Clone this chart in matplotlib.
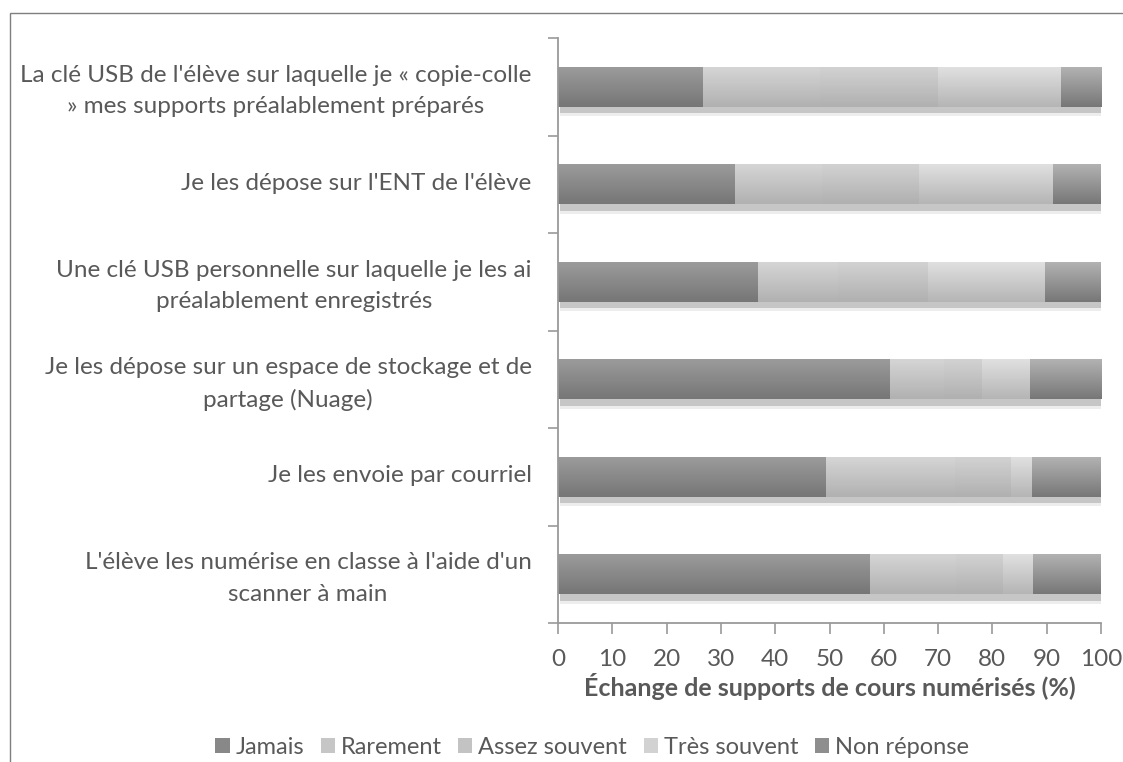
import numpy as np
import matplotlib
matplotlib.use("Agg")
import matplotlib.pyplot as plt
from matplotlib.colors import LinearSegmentedColormap
from matplotlib.patches import Rectangle, Patch
from matplotlib.ticker import FixedLocator

categories = [
    "La clé USB de l'élève sur laquelle je « copie-colle\n» mes supports préalablement préparés",
    "Je les dépose sur l'ENT de l'élève",
    "Une clé USB personnelle sur laquelle je les ai\npréalablement enregistrés",
    "Je les dépose sur un espace de stockage et de\npartage (Nuage)",
    "Je les envoie par courriel",
    "L'élève les numérise en classe à l'aide d'un\nscanner à main",
]
series_names = ["Jamais", "Rarement", "Assez souvent", "Très souvent", "Non réponse"]
jamais = [26.7, 32.6, 36.8, 61.2, 49.4, 57.5]
rarement = [21.6, 16.0, 14.8, 9.8, 23.7, 15.8]
assez_souvent = [21.7, 17.9, 16.6, 7.0, 10.4, 8.7]
tres_souvent = [22.6, 24.7, 21.5, 8.9, 3.8, 5.5]
non_reponse = [7.4, 8.8, 10.3, 13.1, 12.7, 12.5]
xticks = [0, 10, 20, 30, 40, 50, 60, 70, 80, 90, 100]
xlabel = "Échange de supports de cours numérisés (%)"

values = [jamais, rarement, assez_souvent, tres_souvent, non_reponse]
# (top colour, bottom colour, legend colour)
grads = [
    ("#9b9b9b", "#767676", "#888888"),
    ("#d5d5d5", "#b1b1b1", "#c6c6c6"),
    ("#d2d2d2", "#b0b0b0", "#c3c3c3"),
    ("#e0e0e0", "#b5b5b5", "#d2d2d2"),
    ("#b2b2b2", "#777777", "#8e8e8e"),
]

TXT = "#595959"
AX = "#9a9a9a"
plt.rcParams['font.family'] = ['Lato', 'DejaVu Sans']

W, H = 1123, 762
fig = plt.figure(figsize=(W / 100, H / 100), dpi=100)
# outer chart border (cropped at right/bottom)
fig.patches.append(Rectangle((10 / W, -0.1), 1.2, 1 - 13 / H + 0.1, transform=fig.transFigure,
                             fill=False, edgecolor="#7f7f7f", linewidth=1.0))

ax = fig.add_axes([558 / W, 1 - 623 / H, (1101 - 558) / W, (623 - 38) / H])
n = len(categories)
y = np.arange(n)[::-1]
bh = 0.41
totals = np.sum(values, axis=0)

# shadows
ax.barh(y - bh / 2 - 0.045, totals, left=0.3, height=0.11, color="#ededed", zorder=1)
ax.barh(y - bh / 2 - 0.03, totals, left=0.3, height=0.075, color="#c6c6c6", zorder=1.5)

left = np.zeros(n)
for vals, (top, bot, leg) in zip(values, grads):
    bars = ax.barh(y, vals, left=left, height=bh, color=leg, zorder=2, linewidth=0)
    cmap = LinearSegmentedColormap.from_list("g", [bot, top])
    grad = np.linspace(0, 1, 64).reshape(-1, 1)
    for p in bars.patches:
        x0, y0 = p.get_x(), p.get_y()
        im = ax.imshow(grad, extent=[x0, x0 + p.get_width(), y0, y0 + p.get_height()],
                       origin="lower", cmap=cmap, aspect="auto", zorder=2.1, interpolation="bilinear")
        im.set_clip_path(p)
    left = left + np.array(vals)

ax.set_xlim(0, 100)
ax.set_ylim(-0.5, n - 0.5)
ax.set_aspect("auto")
ax.set_xticks(xticks)
ax.set_xticklabels([str(t) for t in xticks])
ax.yaxis.set_major_locator(FixedLocator(np.arange(-0.5, n, 1.0)))
ax.set_yticklabels([""] * (n + 1))
ax.yaxis.set_minor_locator(FixedLocator(y + 0.03))
ax.set_yticklabels(categories, minor=True, ha="right", multialignment="center", linespacing=1.6)
ax.tick_params(axis="y", which="minor", length=0, pad=19, labelsize=17.5, labelcolor=TXT)
ax.tick_params(axis="y", which="major", length=7, width=1.2, color=AX, direction="out")
ax.tick_params(axis="x", length=8, width=1.2, color=AX, direction="out", labelsize=17.5,
               labelcolor=TXT, pad=11)
for s in ["top", "right"]:
    ax.spines[s].set_visible(False)
for s in ["left", "bottom"]:
    ax.spines[s].set_color(AX)
    ax.spines[s].set_linewidth(1.3)
ax.set_xlabel(xlabel, fontsize=18, fontweight="bold", color=TXT, labelpad=2)

handles = [Patch(facecolor=g[2], edgecolor="none") for g in grads]
fig.legend(handles, series_names, loc="center", bbox_to_anchor=(592 / W, 1 - 747 / H), ncol=5,
           frameon=False, fontsize=17, labelcolor=TXT, handlelength=0.6, handleheight=0.6,
           handletextpad=0.25, columnspacing=0.7)

fig.savefig("out.png", dpi=100)
